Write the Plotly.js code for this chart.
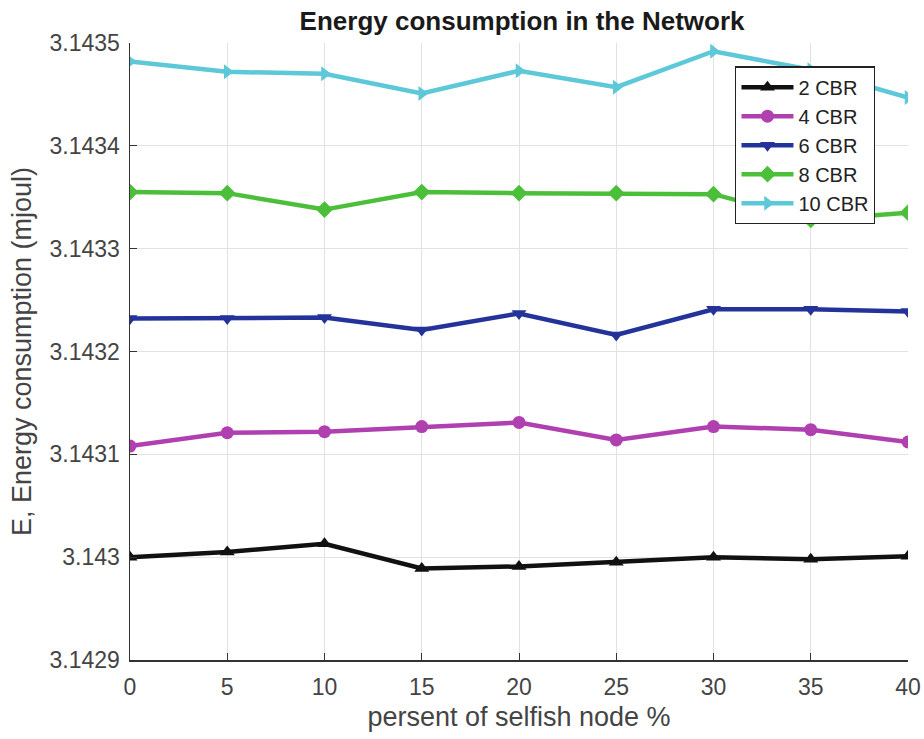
<!DOCTYPE html>
<html>
<head>
<meta charset="utf-8">
<script src="https://cdn.plot.ly/plotly-3.0.1.min.js"></script>
<style>html,body{margin:0;padding:0;background:#fff;}#chart{width:924px;height:739px;}</style>
</head>
<body>
<div id="chart"></div>
<script>
const selfishPercent = [0, 5, 10, 15, 20, 25, 30, 35, 40];
const cbr2  = [3.143000, 3.143005, 3.143013, 3.142989, 3.142991, 3.142995, 3.143000, 3.142998, 3.143001];
const cbr4  = [3.143108, 3.143121, 3.143122, 3.143127, 3.143131, 3.143114, 3.143127, 3.143124, 3.143112];
const cbr6  = [3.143232, 3.143232, 3.143233, 3.143221, 3.143237, 3.143216, 3.143241, 3.143241, 3.143239];
const cbr8  = [3.143355, 3.143354, 3.143338, 3.143355, 3.143354, 3.143354, 3.143353, 3.143328, 3.143335];
const cbr10 = [3.143482, 3.143472, 3.143470, 3.143451, 3.143473, 3.143457, 3.143492, 3.143474, 3.143447];
const seriesNames = ['2 CBR', '4 CBR', '6 CBR', '8 CBR', '10 CBR'];
const yTicks = [3.1429, 3.143, 3.1431, 3.1432, 3.1433, 3.1434, 3.1435];
const yTickText = ['3.1429', '3.143', '3.1431', '3.1432', '3.1433', '3.1434', '3.1435'];
const xTicks = [0, 5, 10, 15, 20, 25, 30, 35, 40];

const seriesData = [cbr2, cbr4, cbr6, cbr8, cbr10];
const colors = ['#111111', '#b040b0', '#24339a', '#4cbf3a', '#5cc8d8'];
const symbols = ['triangle-up', 'circle', 'triangle-down', 'diamond', 'triangle-right'];

const traces = seriesData.map((ys, i) => ({
  x: selfishPercent, y: ys, name: seriesNames[i],
  type: 'scatter', mode: 'lines+markers',
  line: {color: colors[i], width: 4.5},
  marker: {color: colors[i], symbol: symbols[i], size: 13}
}));

const layout = {
  width: 924, height: 739,
  margin: {l: 130, r: 16, t: 43, b: 79},
  paper_bgcolor: '#ffffff', plot_bgcolor: '#ffffff',
  font: {family: 'Liberation Sans, Arial, sans-serif', color: '#404040'},
  title: {text: '<b>Energy consumption in the Network</b>', x: 0.565, xanchor: 'center', y: 0.972, yanchor: 'middle',
          font: {size: 26, color: '#1a1a1a', family: 'Liberation Sans, Arial, sans-serif'}},
  xaxis: {
    range: [0, 40], tickvals: xTicks, ticks: 'inside', ticklen: 7, tickcolor: '#333',
    showgrid: true, gridcolor: '#e2e2e2', gridwidth: 1, zeroline: false,
    showline: true, linecolor: '#333', linewidth: 1.5,
    tickfont: {size: 23, color: '#444'}, ticklabelstandoff: 6,
    title: {text: 'persent of selfish node %', font: {size: 27, color: '#444'}, standoff: 8}
  },
  yaxis: {
    range: [3.1429, 3.1435], tickvals: yTicks, ticktext: yTickText, ticks: 'inside', ticklen: 7, tickcolor: '#333',
    showgrid: true, gridcolor: '#e2e2e2', gridwidth: 1, zeroline: false,
    showline: true, linecolor: '#333', linewidth: 1.5,
    tickfont: {size: 23, color: '#444'}, ticklabelstandoff: 4,
    title: {text: 'E, Energy consumption (mjoul)', font: {size: 27, color: '#444'}, standoff: 10}
  },
  legend: {
    x: 0.778, y: 0.962, xanchor: 'left', yanchor: 'top',
    bgcolor: '#ffffff', bordercolor: '#222', borderwidth: 1.2,
    font: {size: 20, color: '#222'}, tracegroupgap: 0, itemwidth: 52
  },
  showlegend: true
};

Plotly.newPlot('chart', traces, layout, {displayModeBar: false, staticPlot: true});
</script>
</body>
</html>
